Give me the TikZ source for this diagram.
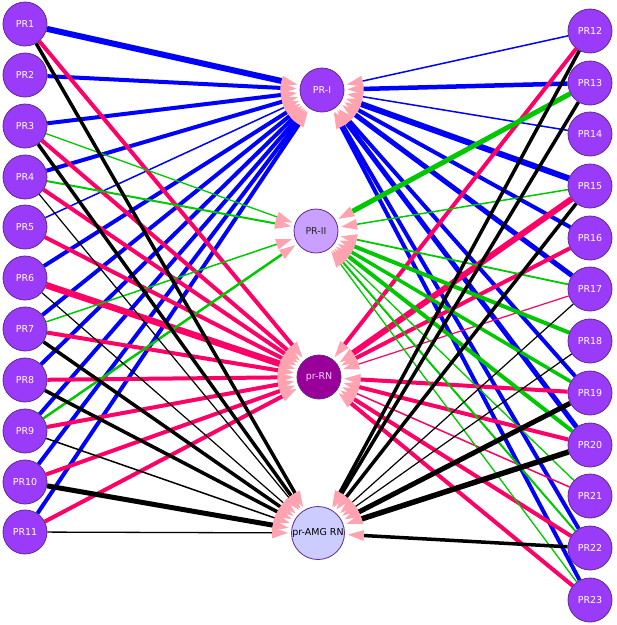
\documentclass[tikz,border=0pt]{standalone}
\usepackage{fontspec}
\setmainfont{DejaVu Sans}
\usetikzlibrary{arrows.meta}
\pgfdeclarelayer{bg}
\pgfsetlayers{bg,main}
\definecolor{prfill}{HTML}{9B3BFA}
\definecolor{prborder}{HTML}{5E2A8C}
\definecolor{priifill}{HTML}{C9A0FF}
\definecolor{rnfill}{HTML}{990099}
\definecolor{amgfill}{HTML}{CCCCFF}
\definecolor{eblue}{HTML}{0000FF}
\definecolor{ered}{HTML}{FF0066}
\definecolor{egreen}{HTML}{00C800}
\definecolor{eblack}{HTML}{000000}
\definecolor{arrowpink}{HTML}{FFA3B0}
\definecolor{rntext}{HTML}{FFCCFF}
\begin{document}
\begin{tikzpicture}[x=1pt,y=-1pt,
  prnode/.style={circle,draw=prborder,line width=0.8pt,fill=prfill,minimum size=44pt,inner sep=0pt,text=white,font=\fontsize{9.5}{11}\selectfont},
  hubnode/.style={circle,draw=prborder,line width=0.8pt,minimum size=44pt,inner sep=0pt,font=\fontsize{9.5}{11}\selectfont},
  edge/.style={-{Triangle[length=16pt,width=11pt,color=arrowpink,line width=0pt]},shorten >=3pt}]
\useasboundingbox (0,0) rectangle (617,625);
% left column
\node[prnode] (PR1) at (25,24) {PR1};
\node[prnode] (PR2) at (25,75) {PR2};
\node[prnode] (PR3) at (25,126) {PR3};
\node[prnode] (PR4) at (25,177) {PR4};
\node[prnode] (PR5) at (25,227) {PR5};
\node[prnode] (PR6) at (25,278) {PR6};
\node[prnode] (PR7) at (25,329) {PR7};
\node[prnode] (PR8) at (25,380) {PR8};
\node[prnode] (PR9) at (25,431) {PR9};
\node[prnode] (PR10) at (25,482) {PR10};
\node[prnode] (PR11) at (25,532) {PR11};
% right column
\node[prnode] (PR12) at (590,31) {PR12};
\node[prnode] (PR13) at (590,83) {PR13};
\node[prnode] (PR14) at (590,134) {PR14};
\node[prnode] (PR15) at (590,186) {PR15};
\node[prnode] (PR16) at (590,238) {PR16};
\node[prnode] (PR17) at (590,289) {PR17};
\node[prnode] (PR18) at (590,341) {PR18};
\node[prnode] (PR19) at (590,393) {PR19};
\node[prnode] (PR20) at (590,445) {PR20};
\node[prnode] (PR21) at (590,496) {PR21};
\node[prnode] (PR22) at (590,548) {PR22};
\node[prnode] (PR23) at (590,600) {PR23};
% hubs
\node[hubnode,fill=prfill,text=white] (PRI) at (322,90) {PR-I};
\node[hubnode,fill=priifill,text=black!85] (PRII) at (316,231) {PR-II};
\node[hubnode,fill=rnfill,text=rntext] (RN) at (319,377) {pr-RN};
\node[hubnode,fill=amgfill,text=black,minimum size=53pt] (AMG) at (318,533) {pr-AMG RN};
\begin{pgfonlayer}{bg}
% blue edges to PR-I
\foreach \s/\w in {PR1/6,PR2/4,PR3/4,PR4/4,PR5/1.5,PR6/4,PR7/4,PR8/4,PR9/4,PR10/4,PR11/4,
  PR12/1.5,PR13/4.5,PR14/1.5,PR15/6,PR16/4,PR17/5,PR19/4,PR20/5,PR22/4,PR23/4}
  \draw[edge,draw=eblue,line width=\w pt] (\s) -- (PRI);
% red edges to pr-RN
\foreach \s/\w in {PR1/4,PR3/4,PR4/4,PR5/4,PR6/6.5,PR7/4,PR8/4,PR9/4,PR10/4,PR11/4,
  PR12/4,PR15/6,PR16/4,PR17/1.2,PR19/4,PR20/4,PR21/1.5,PR22/4,PR23/4}
  \draw[edge,draw=ered,line width=\w pt] (\s) -- (RN);
% green edges to PR-II
\foreach \s/\w in {PR3/1.3,PR4/2,PR7/1.5,PR9/2.5,PR13/5,PR15/1.5,PR17/1.8,PR18/4,
  PR19/3.5,PR20/4,PR21/1.3,PR22/2,PR23/1.3}
  \draw[edge,draw=egreen,line width=\w pt] (\s) -- (PRII);
% black edges to pr-AMG RN
\foreach \s/\w in {PR1/3.5,PR3/3.5,PR4/1.2,PR6/1.2,PR7/3.5,PR8/3.5,PR9/1.5,PR10/5,PR11/1.3,
  PR12/3.5,PR13/3.5,PR15/3.5,PR17/1.2,PR18/1.2,PR19/5,PR20/5.5,PR22/3.5}
  \draw[edge,draw=eblack,line width=\w pt] (\s) -- (AMG);
\end{pgfonlayer}
\end{tikzpicture}
\end{document}
